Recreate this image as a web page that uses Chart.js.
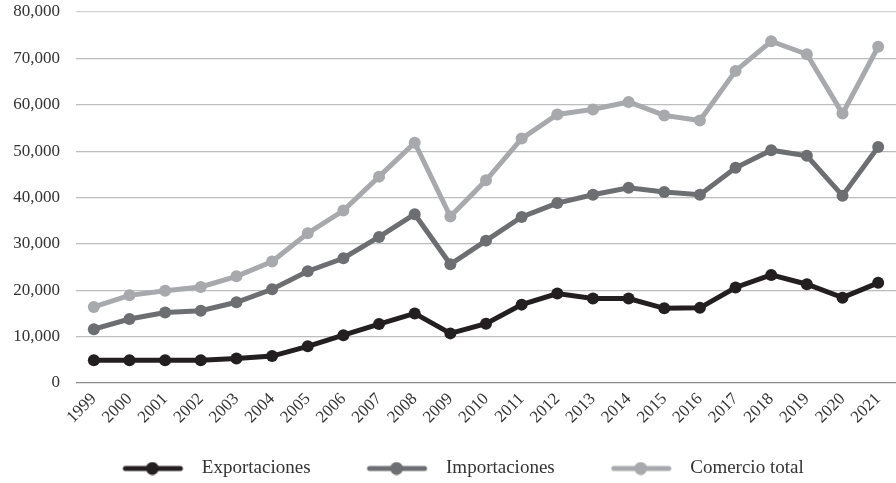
<!DOCTYPE html>
<html>
<head>
<meta charset="utf-8">
<script src="https://cdn.jsdelivr.net/npm/chart.js@4"></script>
<style>
  html, body { margin: 0; padding: 0; background: #fff; }
  #wrap { width: 896px; height: 483px; }
</style>
</head>
<body>
<div id="wrap"><canvas id="tradeChart" width="896" height="483"></canvas></div>
<script>
// Years on the x axis
const years = ['1999','2000','2001','2002','2003','2004','2005','2006','2007','2008','2009','2010',
               '2011','2012','2013','2014','2015','2016','2017','2018','2019','2020','2021'];

// Series values
const exportaciones = [4900, 4900, 4900, 4900, 5300, 5800, 7900, 10300, 12700, 15000, 10700, 12800,
                       16900, 19300, 18200, 18200, 16100, 16200, 20600, 23300, 21300, 18400, 21600];
const importaciones = [11600, 13800, 15200, 15600, 17400, 20200, 24100, 26900, 31500, 36400, 25600, 30700,
                       35800, 38800, 40600, 42100, 41200, 40600, 46400, 50200, 49000, 40400, 50900];
const comercioTotal = [16400, 18900, 19900, 20700, 23000, 26200, 32300, 37200, 44500, 51800, 35900, 43700,
                       52700, 57900, 59000, 60600, 57700, 56600, 67300, 73700, 70900, 58100, 72500];

const yTicks = [0, 10000, 20000, 30000, 40000, 50000, 60000, 70000, 80000];

const serif = "'Liberation Serif', 'DejaVu Serif', serif";

// legend sample: blank lead-in (spacing), thick line with a dot, then a gap before the text
function legendIcon(color) {
    const c = document.createElement('canvas');
    c.width = 118; c.height = 14;
    const g = c.getContext('2d');
    g.strokeStyle = color;
    g.lineWidth = 5;
    g.lineCap = 'round';
    g.beginPath(); g.moveTo(51, 7); g.lineTo(106, 7); g.stroke();
    g.fillStyle = color;
    g.beginPath(); g.arc(78, 7, 6.5, 0, Math.PI * 2); g.fill();
    return c;
}

// nudge the legend so it sits where the picture has it
const legendShift = {
    id: 'legendShift',
    afterLayout(chart) {
        if (!chart.legend) return;
        chart.legend.left -= 18;
        chart.legend.top += 5;
        chart.legend.bottom += 5;
    }
};

const series = [
    { label: 'Exportaciones', data: exportaciones, color: '#231f20' },
    { label: 'Importaciones', data: importaciones, color: '#6d6e71' },
    { label: 'Comercio total', data: comercioTotal, color: '#a7a9ac' }
];

new Chart(document.getElementById('tradeChart'), {
    type: 'line',
    data: {
        labels: years,
        datasets: series.map(s => ({
            label: s.label,
            data: s.data,
            borderColor: s.color,
            backgroundColor: s.color,
            borderWidth: 5,
            pointRadius: 6,
            pointStyle: 'circle',
            pointBackgroundColor: s.color,
            pointBorderWidth: 0,
            tension: 0
        }))
    },
    plugins: [legendShift],
    options: {
        responsive: false,
        animation: false,
        layout: { autoPadding: false, padding: { top: 12, right: 0, left: 0, bottom: 0 } },
        plugins: {
            tooltip: { enabled: false },
            legend: {
                position: 'bottom',
                labels: {
                    usePointStyle: true,
                    pointStyleWidth: 118,
                    padding: 8,
                    color: '#333',
                    font: { family: serif, size: 19 },
                    generateLabels: (chart) => chart.data.datasets.map((ds, i) => ({
                        text: ds.label,
                        pointStyle: legendIcon(ds.borderColor),
                        fillStyle: ds.borderColor,
                        strokeStyle: ds.borderColor,
                        lineWidth: 0,
                        fontColor: '#333',
                        datasetIndex: i
                    }))
                }
            }
        },
        scales: {
            x: {
                offset: true,
                grid: { display: false, drawTicks: false },
                border: { display: false },
                ticks: {
                    color: '#333',
                    font: { family: serif, size: 17 },
                    minRotation: 45,
                    maxRotation: 45,
                    padding: 6
                },
                afterFit: (scale) => {
                    scale.height = 63;
                    scale.paddingLeft = 0;
                    scale.paddingRight = 0;
                }
            },
            y: {
                min: 0,
                max: 80000,
                afterBuildTicks: (scale) => { scale.ticks = yTicks.map(v => ({ value: v })); },
                grid: {
                    drawTicks: false,
                    lineWidth: 1.2,
                    color: (ctx) => ctx.tick.value === 0 ? '#8a8a8a' : (ctx.tick.value === 80000 ? '#d4d4d4' : '#bdbdbd')
                },
                border: { display: false },
                ticks: {
                    color: '#333',
                    font: { family: serif, size: 17 },
                    padding: 16,
                    callback: (v) => Number(v).toLocaleString('en-US')
                },
                afterFit: (scale) => {
                    scale.width = 76;
                    scale.paddingTop = 0;
                    scale.paddingBottom = 0;
                }
            }
        }
    }
});
</script>
</body>
</html>
